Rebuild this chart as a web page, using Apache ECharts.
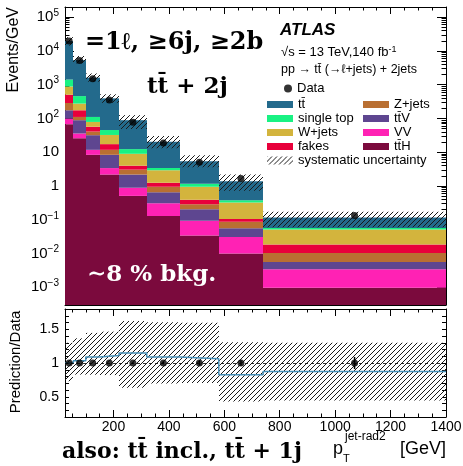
<!DOCTYPE html>
<html>
<head>
<meta charset="utf-8">
<title>pT jet-rad2</title>
<script src="https://cdn.jsdelivr.net/npm/echarts@6/dist/echarts.min.js"></script>
<style>html,body{margin:0;padding:0;background:#fff}#main{width:463px;height:466px}</style>
</head>
<body>
<div id="main"></div>
<script>
// bin edges [GeV]
var edges = [25, 55, 100, 150, 220, 320, 440, 580, 740, 1400];

// Events/GeV per process, stacked bottom -> top
var ttH      = [68, 26, 8.4, 2.19, 0.51, 0.129, 0.034, 0.010, 0.00098];
var VV       = [32, 10, 3.4, 1.21, 0.38, 0.181, 0.060, 0.021, 0.00247];
var ttV      = [75, 53, 20.2, 5.0, 1.30, 0.34, 0.112, 0.025, 0.00222];
var Zjets    = [112, 22, 9, 3.4, 0.87, 0.305, 0.084, 0.031, 0.00473];
var fakes    = [219, 64, 16, 5.6, 0.94, 0.295, 0.10, 0.018, 0.0082];
var Wjets    = [379, 101, 22, 15.1, 5.0, 1.67, 0.565, 0.219, 0.0327];
var singleTop= [535, 184, 32, 13, 3.4, 0.52, 0.215, 0.056, 0.0062];
var ttbar    = [18280, 4900, 1509, 348.5, 76.6, 17.16, 4.26, 1.01, 0.0595];

var dataVals = [19700, 5180, 1490, 355, 77.4, 18.9, 5.1, 1.68, 0.134];
var dataErr  = [0, 0, 0, 0, 0.01, 0.02, 0.03, 0.04, 0.09];   // relative stat. error
var uncUp    = [0.30, 0.32, 0.33, 0.32, 0.41, 0.47, 0.50, 0.58, 0.49];
var uncDown  = [0.27, 0.20, 0.24, 0.26, 0.45, 0.36, 0.34, 0.48, 0.49];

var xTickLabels = [200, 400, 600, 800, 1000, 1200, 1400];
var ratioTickLabels = [0.5, 1, 1.5];

var names  = ['tt\u0304H', 'VV', 'tt\u0304V', 'Z+jets', 'fakes', 'W+jets', 'single top', 'tt\u0304'];
var colors = ['#7b0a3d', '#ff22b4', '#5e4690', '#b96f32', '#e8003b', '#d3b43d', '#19f283', '#236a8c'];
var procs  = [ttH, VV, ttV, Zjets, fakes, Wjets, singleTop, ttbar];

var yMin = 3e-4, yMax = 2e5;
var nBins = edges.length - 1;

// cumulative stack
var cum = [];
for (var k = 0; k < procs.length; k++) {
    cum.push(procs[k].map(function (v, i) { return v + (k ? cum[k - 1][i] : 0); }));
}
var total = cum[cum.length - 1];
var centers = [];
for (var i = 0; i < nBins; i++) centers.push((edges[i] + edges[i + 1]) / 2);
var ratio = total.map(function (t, i) { return t / dataVals[i]; });

// hatch pattern
var hc = document.createElement('canvas');
hc.width = 5; hc.height = 5;
var g = hc.getContext('2d');
g.strokeStyle = '#1a1a1a'; g.lineWidth = 1;
g.beginPath();
g.moveTo(0, 5); g.lineTo(5, 0);
g.moveTo(-1, 1); g.lineTo(1, -1);
g.moveTo(4, 6); g.lineTo(6, 4);
g.stroke();
var hatch = {image: hc, repeat: 'repeat'};

function rectItem(fill) {
    return function (params, api) {
        var p0 = api.coord([api.value(0), api.value(3)]);
        var p1 = api.coord([api.value(1), api.value(2)]);
        var x0 = Math.round(p0[0]), x1 = Math.round(p1[0]);
        return {type: 'rect', shape: {x: x0, y: p0[1], width: x1 - x0, height: p1[1] - p0[1]},
            style: {fill: fill}};
    };
}

var series = [];
for (var k = 0; k < procs.length; k++) {
    var items = [];
    for (var i = 0; i < nBins; i++) items.push([edges[i], edges[i + 1], k ? cum[k - 1][i] : yMin, cum[k][i]]);
    series.push({type: 'custom', name: names[k], xAxisIndex: 0, yAxisIndex: 0, clip: true,
        itemStyle: {color: colors[k]}, encode: {x: [0, 1], y: [2, 3]}, data: items,
        renderItem: rectItem(colors[k]), silent: true});
}

// uncertainty band, main panel
var bandMain = [], bandRatio = [];
for (var i = 0; i < nBins; i++) {
    bandMain.push([edges[i], edges[i + 1], total[i] * (1 - uncDown[i]), total[i] * (1 + uncUp[i])]);
    bandRatio.push([edges[i], edges[i + 1], ratio[i] * (1 - uncDown[i]), ratio[i] * (1 + uncUp[i])]);
}
series.push({type: 'custom', name: 'systematic uncertainty', xAxisIndex: 0, yAxisIndex: 0, clip: true,
    itemStyle: {color: hatch}, encode: {x: [0, 1], y: [2, 3]}, data: bandMain, renderItem: rectItem(hatch), z: 5});

series.push({type: 'scatter', name: 'Data', xAxisIndex: 0, yAxisIndex: 0, symbol: 'circle', symbolSize: 7,
    itemStyle: {color: '#000'}, z: 10,
    data: centers.map(function (c, i) { return [c, dataVals[i]]; })});

// ratio panel
series.push({type: 'custom', name: 'ratioBand', xAxisIndex: 2, yAxisIndex: 2, clip: true,
    itemStyle: {color: hatch}, encode: {x: [0, 1], y: [2, 3]}, data: bandRatio, renderItem: rectItem(hatch), z: 2});

var stepPts = [];
for (var i = 0; i < nBins; i++) stepPts.push([edges[i], ratio[i]]);
stepPts.push([edges[nBins], ratio[nBins - 1]]);
series.push({type: 'line', name: 'ratioLine', xAxisIndex: 2, yAxisIndex: 2, step: 'end', symbol: 'none',
    lineStyle: {color: '#4690b8', width: 1.5}, data: stepPts, z: 4,
    markLine: {silent: true, symbol: 'none', label: {show: false},
        lineStyle: {color: '#000', type: [3, 3], width: 0.8}, data: [{yAxis: 1}]}});

series.push({type: 'custom', name: 'ratioErr', xAxisIndex: 2, yAxisIndex: 2, z: 6,
    data: centers.map(function (c, i) { return [c, 1 - dataErr[i], 1 + dataErr[i]]; }),
    encode: {x: 0, y: [1, 2]},
    renderItem: function (params, api) {
        var a = api.coord([api.value(0), api.value(1)]);
        var b = api.coord([api.value(0), api.value(2)]);
        return {type: 'line', shape: {x1: a[0], y1: a[1], x2: b[0], y2: b[1]}, style: {stroke: '#000', lineWidth: 1.5}};
    }});
series.push({type: 'scatter', name: 'ratioData', xAxisIndex: 2, yAxisIndex: 2, symbol: 'circle', symbolSize: 7,
    itemStyle: {color: '#000'}, z: 10, data: centers.map(function (c) { return [c, 1]; })});

var font = 'Liberation Sans';
var axisLine = {show: true, lineStyle: {color: '#000', width: 1}};
function xAx(grid, pos, labels) {
    return {type: 'value', gridIndex: grid, position: pos, min: edges[0], max: edges[nBins], splitNumber: 7,
        axisLine: axisLine, splitLine: {show: false},
        axisTick: {show: true, inside: true, length: 7, lineStyle: {color: '#000'}},
        minorTick: {show: true, splitNumber: 4, length: 3.5, lineStyle: {color: '#000'}},
        axisLabel: {show: labels, color: '#000', fontFamily: font, fontSize: 14, margin: 3, showMinLabel: false,
            formatter: function (v) { return xTickLabels.indexOf(v) >= 0 ? String(v) : ''; }}};
}
function yLog(pos, labels) {
    return {type: 'log', gridIndex: 0, position: pos, min: yMin, max: yMax, logBase: 10,
        axisLine: axisLine, splitLine: {show: false},
        axisTick: {show: true, inside: true, length: 9, lineStyle: {color: '#000'}},
        minorTick: {show: true, splitNumber: 9, length: 4.5, lineStyle: {color: '#000'}},
        axisLabel: {show: labels, color: '#000', fontFamily: font, fontSize: 15, margin: 6, lineHeight: 18,
            showMinLabel: false, showMaxLabel: false,
            formatter: function (v) {
                var e = Math.round(Math.log10(v));
                if (e === 0) return '1';
                if (e === 1) return '10';
                return '10{sup|' + (e < 0 ? '\u2212' + (-e) : e) + '}';
            },
            rich: {sup: {fontSize: 10, fontFamily: font, color: '#000', verticalAlign: 'top', lineHeight: 10}}}};
}
function yRatio(pos, labels) {
    return {type: 'value', gridIndex: 1, position: pos, min: 0.2, max: 1.8, interval: 0.1,
        axisLine: axisLine, splitLine: {show: false},
        axisTick: {show: true, inside: true, length: 4, lineStyle: {color: '#000'}},
        axisLabel: {show: labels, color: '#000', fontFamily: font, fontSize: 14, margin: 6,
            formatter: function (v) {
                var r = Math.round(v * 10) / 10;
                return ratioTickLabels.indexOf(r) >= 0 ? String(r) : '';
            }}};
}

var legText = {fontFamily: font, fontSize: 13, color: '#000', lineHeight: 13};

var option = {
    animation: false,
    backgroundColor: '#fff',
    grid: [
        {left: 65, right: 17, top: 7, height: 298, outerBoundsMode: 'none'},
        {left: 65, right: 17, top: 309, height: 108, outerBoundsMode: 'none'}
    ],
    xAxis: [xAx(0, 'bottom', false), xAx(0, 'top', false), xAx(1, 'bottom', true), xAx(1, 'top', false)],
    yAxis: [yLog('left', true), yLog('right', false), yRatio('left', true), yRatio('right', false)],
    legend: [
        {data: ['Data'], left: 279, top: 77, itemWidth: 8, itemHeight: 8, icon: 'circle', textStyle: legText,
            selectedMode: false, itemGap: 2},
        {data: ['tt\u0304', 'single top', 'W+jets', 'fakes'], orient: 'vertical', left: 262, top: 93,
            itemWidth: 26, itemHeight: 7, itemGap: 1, icon: 'rect', textStyle: legText, selectedMode: false},
        {data: ['Z+jets', 'tt\u0304V', 'VV', 'tt\u0304H'], orient: 'vertical', left: 358, top: 93,
            itemWidth: 26, itemHeight: 7, itemGap: 1, icon: 'rect', textStyle: legText, selectedMode: false},
        {data: ['systematic uncertainty'], left: 262, top: 149, itemWidth: 26, itemHeight: 8, icon: 'rect',
            textStyle: legText, selectedMode: false}
    ],
    graphic: [
        {type: 'text', x: 14, y: 7, rotation: Math.PI / 2,
            style: {text: 'Events/GeV', align: 'right', verticalAlign: 'middle', font: '16px "Liberation Sans"', fill: '#000'}},
        {type: 'text', x: 16, y: 362, rotation: Math.PI / 2,
            style: {text: 'Prediction/Data', align: 'center', verticalAlign: 'middle', font: '15px "Liberation Sans"', fill: '#000'}},
        {type: 'text', x: 280, y: 30,
            style: {text: 'ATLAS', verticalAlign: 'middle', font: 'italic bold 17px "Liberation Sans"', fill: '#000'}},
        {type: 'text', x: 281, y: 52,
            style: {text: '\u221As = 13 TeV,140 fb{sup|-1}', verticalAlign: 'middle', font: '13px "Liberation Sans"', fill: '#000',
                rich: {sup: {fontSize: 9, fontFamily: font, verticalAlign: 'top', lineHeight: 9}}}},
        {type: 'text', x: 281, y: 70,
            style: {text: 'pp \u2192 tt\u0304 (\u2192\u2113+jets) + 2jets', verticalAlign: 'middle', font: '12.5px "Liberation Sans"', fill: '#000'}},
        {type: 'text', x: 85, y: 43,
            style: {text: '=1\u2113, \u22656j, \u22652b', verticalAlign: 'middle', font: 'bold 24px "DejaVu Serif"', fill: '#000'}},
        {type: 'text', x: 147, y: 87,
            style: {text: 'tt\u0304 + 2j', verticalAlign: 'middle', font: 'bold 23px "DejaVu Serif"', fill: '#000'}},
        {type: 'text', x: 87, y: 275, z: 20,
            style: {text: '\u223C8 % bkg.', verticalAlign: 'middle', font: 'bold 23px "DejaVu Serif"', fill: '#fff'}},
        {type: 'text', x: 62, y: 452,
            style: {text: 'also: tt\u0304 incl., tt\u0304 + 1j', verticalAlign: 'middle', font: 'bold 22px "DejaVu Serif"', fill: '#000'}},
        {type: 'text', x: 333, y: 449,
            style: {text: 'p', verticalAlign: 'middle', font: '18px "Liberation Sans"', fill: '#000'}},
        {type: 'text', x: 345, y: 437,
            style: {text: 'jet-rad2', verticalAlign: 'middle', font: '12px "Liberation Sans"', fill: '#000'}},
        {type: 'text', x: 343, y: 459,
            style: {text: 'T', verticalAlign: 'middle', font: '11px "Liberation Sans"', fill: '#000'}},
        {type: 'text', x: 446, y: 449,
            style: {text: '[GeV]', align: 'right', verticalAlign: 'middle', font: '18px "Liberation Sans"', fill: '#000'}}
    ],
    series: series
};

var myChart = echarts.init(document.getElementById('main'));
myChart.setOption(option);
</script>
</body>
</html>
